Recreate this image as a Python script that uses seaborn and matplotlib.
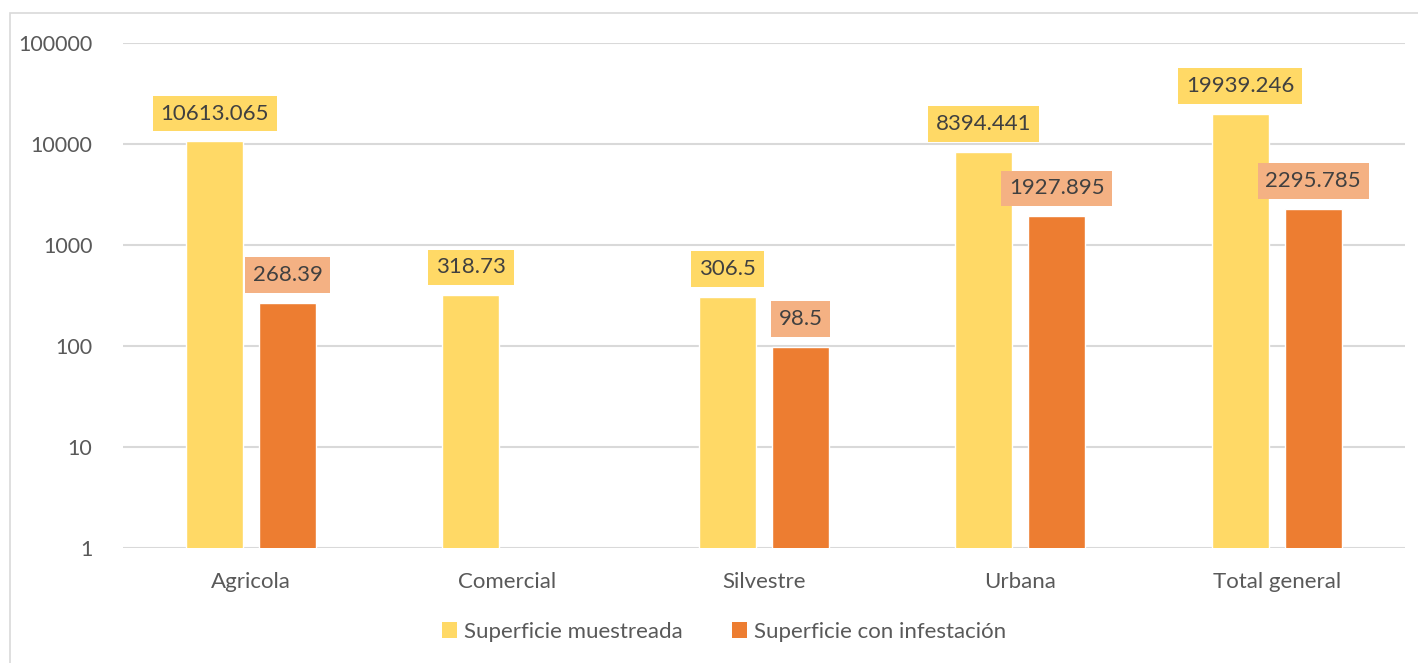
import numpy as np
import pandas as pd
import matplotlib.pyplot as plt
import seaborn as sns
from matplotlib.patches import Patch, Rectangle

categories = ["Agricola", "Comercial", "Silvestre", "Urbana", "Total general"]
muestreada = [10613.065, 318.73, 306.5, 8394.441, 19939.246]
infestacion = [268.39, np.nan, 98.5, 1927.895, 2295.785]
series = ["Superficie muestreada", "Superficie con infestación"]
y_ticks = [1, 10, 100, 1000, 10000, 100000]

bar_colors = ["#FFD966", "#ED7D31"]
box_colors = ["#FFD966", "#F4B183"]


def main():
    sns.set_style("white")
    plt.rcParams["font.family"] = ["Lato", "DejaVu Sans"]

    df = pd.DataFrame({
        "Categoria": categories * 2,
        "Serie": [series[0]] * len(categories) + [series[1]] * len(categories),
        "Valor": muestreada + infestacion,
    }).dropna()

    fig = plt.figure(figsize=(14.18, 6.63), dpi=100)
    ax = fig.add_axes([0.0867, 0.1735, 0.904, 0.7615])

    sns.barplot(data=df, x="Categoria", y="Valor", hue="Serie",
                order=categories, hue_order=series, palette=bar_colors,
                width=0.57, gap=0.22, saturation=1, legend=False, ax=ax)

    ax.set_yscale("log")
    ax.set_ylim(1, 100000)
    ax.set_xlim(-0.5, 4.5)
    ax.set_yticks(y_ticks)
    ax.set_yticklabels([str(t) for t in y_ticks])
    ax.minorticks_off()
    ax.yaxis.grid(True, color="#D9D9D9", linewidth=1.5)
    ax.set_axisbelow(True)
    for s in ax.spines.values():
        s.set_visible(False)
    ax.tick_params(axis="both", length=0, colors="#595959")
    ax.tick_params(axis="x", pad=17, labelsize=16)
    ax.tick_params(axis="y", pad=22, labelsize=15.5)
    ax.set_xlabel("")
    ax.set_ylabel("")

    # data labels in coloured boxes above each bar
    for i, cont in enumerate(ax.containers):
        for bar in cont:
            h = bar.get_height()
            if not np.isfinite(h) or h <= 0:
                continue
            xc = bar.get_x() + bar.get_width() / 2
            ax.annotate(f"{h:.12g}", (xc, h),
                        xytext=(0, 20), textcoords="offset points",
                        ha="center", va="center", fontsize=16, color="#404040",
                        bbox=dict(boxstyle="square,pad=0.35",
                                  facecolor=box_colors[i], edgecolor="none"))

    handles = [Patch(facecolor=c, edgecolor="none") for c in bar_colors]
    fig.legend(handles, series, loc="center", bbox_to_anchor=(0.5106, 0.047),
               ncol=2, frameon=False, fontsize=16, handlelength=0.7,
               handleheight=0.7, handletextpad=0.3, columnspacing=2.2,
               labelcolor="#595959")

    fig.add_artist(Rectangle((0.007, -0.01), 1.0, 0.99, transform=fig.transFigure,
                             facecolor="none", edgecolor="#D9D9D9", linewidth=1.2))

    plt.savefig("out.png", dpi=100)


if __name__ == "__main__":
    main()
